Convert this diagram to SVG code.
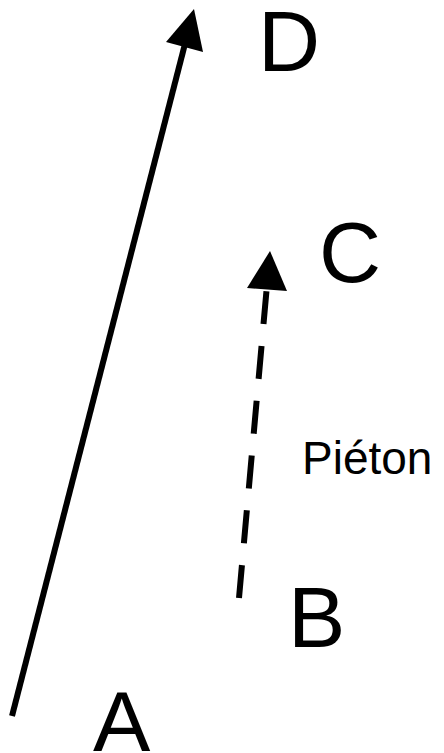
<svg xmlns="http://www.w3.org/2000/svg" width="444" height="753" viewBox="0 0 444 753">
<style>
.lbl{font-family:"Liberation Sans",Arial,sans-serif;fill:#000}
.big{font-size:86px}
.edge{fill:none;stroke:#000;stroke-width:6}
.head{fill:#000}
</style>
<rect width="444" height="753" fill="#fff"/>
<g id="connectors">
<line class="edge" x1="12" y1="716" x2="186" y2="40"/>
<polygon class="head" points="194,9 166,42 203,52"/>
<path class="edge" d="M239,598 L267,285" stroke-dasharray="33,22"/>
<polygon class="head" points="270,251 247,288 287,291"/>
</g>
<g id="node-A"><text class="lbl big" x="93" y="751">A</text></g>
<g id="node-B"><text class="lbl big" x="288" y="647">B</text></g>
<g id="node-C"><text class="lbl big" x="319" y="282">C</text></g>
<g id="node-D"><text class="lbl big" x="258" y="71">D</text></g>
<g id="label-pieton"><text class="lbl" x="302" y="474" font-size="46">Piéton</text></g>
</svg>
